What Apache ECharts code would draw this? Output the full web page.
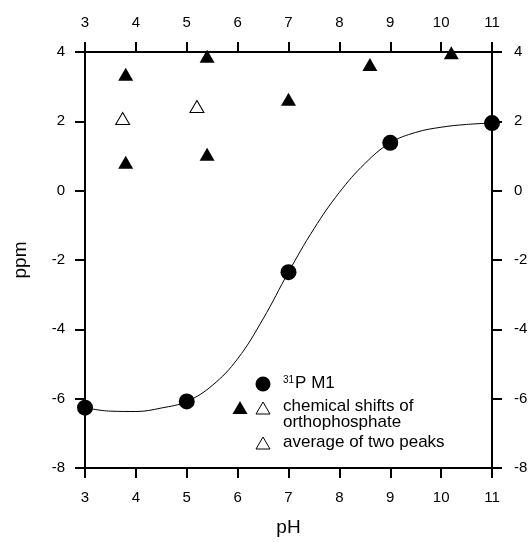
<!DOCTYPE html>
<html>
<head>
<meta charset="utf-8">
<script src="https://cdn.jsdelivr.net/npm/echarts@6/dist/echarts.min.js"></script>
<style>
  html, body { margin: 0; padding: 0; background: #fff; }
  #main { width: 532px; height: 542px; }
</style>
</head>
<body>
<div id="main"></div>
<script>
// 31P M1 shifts vs pH
var m1Points = [[3, -6.26], [5, -6.08], [7, -2.35], [9, 1.38], [11, 1.95]];
// fitted curve
var fitCurve = [
  [3.0, -6.26], [3.5, -6.36], [4.0, -6.37], [4.5, -6.27], [5.0, -6.08],
  [5.5, -5.62], [6.0, -4.85], [6.5, -3.7], [7.0, -2.35], [7.5, -1.1],
  [8.0, -0.05], [8.5, 0.78], [9.0, 1.38], [9.5, 1.68], [10.0, 1.83],
  [10.5, 1.91], [11.0, 1.95]
];
// orthophosphate chemical shifts
var orthoPoints = [[3.8, 3.36], [3.8, 0.82], [5.4, 3.88], [5.4, 1.05], [7.0, 2.64], [8.6, 3.64], [10.2, 3.98]];
// average of two peaks
var avgPoints = [[3.74, 2.08], [5.2, 2.43]];

var xTicks = [3, 11, 1];
var yTicks = [-8, 4, 2];

var font = '"Liberation Sans", Arial, sans-serif';

function xAxisOf(pos) {
  return {
    type: 'value', position: pos, min: xTicks[0], max: xTicks[1], interval: xTicks[2],
    axisLine: { onZero: false, lineStyle: { color: '#000', width: 2 } },
    axisTick: { length: 10, lineStyle: { color: '#000', width: 2 } },
    axisLabel: { color: '#000', fontSize: 15, fontFamily: font, margin: 22 },
    splitLine: { show: false }
  };
}
function yAxisOf(pos) {
  return {
    type: 'value', position: pos, min: yTicks[0], max: yTicks[1], interval: yTicks[2],
    axisLine: { onZero: false, lineStyle: { color: '#000', width: 2 } },
    axisTick: { length: 10, lineStyle: { color: '#000', width: 2 } },
    axisLabel: { color: '#000', fontSize: 15, fontFamily: font, margin: 20 },
    splitLine: { show: false }
  };
}

var xBottom = xAxisOf('bottom');
xBottom.name = 'pH';
xBottom.nameLocation = 'middle';
xBottom.nameGap = 50;
xBottom.nameTextStyle = { color: '#000', fontSize: 19, fontFamily: font };
var yLeft = yAxisOf('left');
yLeft.name = 'ppm';
yLeft.nameLocation = 'middle';
yLeft.nameGap = 55;
yLeft.nameTextStyle = { color: '#000', fontSize: 19, fontFamily: font };
var yRight = yAxisOf('right');
yRight.axisLabel.margin = 22;

var chart = echarts.init(document.getElementById('main'), null, { renderer: 'canvas' });
chart.setOption({
  animation: false,
  backgroundColor: '#fff',
  grid: { left: 85, right: 40, top: 52, bottom: 73 },
  xAxis: [xBottom, xAxisOf('top')],
  yAxis: [yLeft, yRight],
  series: [
    {
      type: 'line', data: fitCurve, smooth: 0.4, showSymbol: false,
      lineStyle: { color: '#000', width: 1 }, z: 1
    },
    {
      type: 'scatter', data: m1Points, symbol: 'circle', symbolSize: 16, clip: false,
      itemStyle: { color: '#000', opacity: 1 }, z: 3
    },
    {
      type: 'scatter', data: orthoPoints, symbol: 'triangle', symbolSize: [15, 13], clip: false,
      itemStyle: { color: '#000', opacity: 1 }, z: 3
    },
    {
      type: 'scatter', data: avgPoints, symbol: 'triangle', symbolSize: [14, 12], clip: false,
      itemStyle: { color: '#fff', borderColor: '#000', borderWidth: 1, opacity: 1 }, z: 3
    }
  ],
  graphic: [
    { type: 'circle', shape: { cx: 263, cy: 384, r: 7.5 }, style: { fill: '#000' } },
    {
      type: 'text', left: 283, top: 375,
      style: {
        text: '{s|31}{n|P M1}', fill: '#000',
        rich: {
          s: { fontSize: 10, fontFamily: font, verticalAlign: 'top', padding: [0, 1, 6, 0] },
          n: { fontSize: 17, fontFamily: font }
        }
      }
    },
    { type: 'polygon', shape: { points: [[240, 401], [247.5, 414], [232.5, 414]] }, style: { fill: '#000' } },
    { type: 'polygon', shape: { points: [[263, 402], [270, 414], [256, 414]] }, style: { fill: '#fff', stroke: '#000', lineWidth: 1 } },
    {
      type: 'text', left: 283, top: 398,
      style: { text: 'chemical shifts of\northophosphate', fill: '#000', fontSize: 17, fontFamily: font, lineHeight: 16 }
    },
    { type: 'polygon', shape: { points: [[263, 437], [270, 449], [256, 449]] }, style: { fill: '#fff', stroke: '#000', lineWidth: 1 } },
    {
      type: 'text', left: 283, top: 434,
      style: { text: 'average of two peaks', fill: '#000', fontSize: 17, fontFamily: font }
    }
  ]
});
</script>
</body>
</html>
